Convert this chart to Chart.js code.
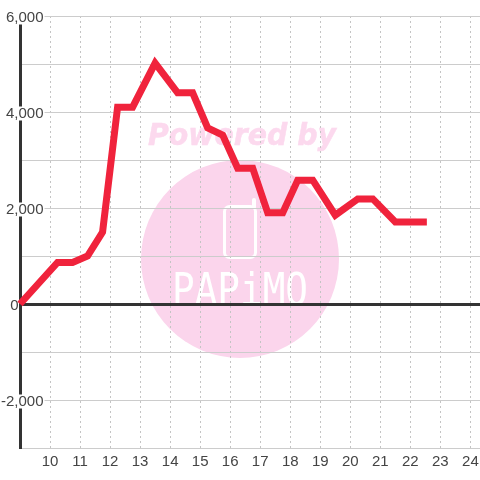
<!DOCTYPE html>
<html lang="en">

<head>
    <meta charset="utf-8">
    <title>Powered by PAPiMO</title>
    <script src="https://cdn.jsdelivr.net/npm/chart.js"></script>
    <style>
        html, body { margin: 0; padding: 0; background: #fff; }
        canvas { display: block; }
    </style>
</head>

<body>
    <canvas id="chart" width="480" height="480"></canvas>

    <script>
        // values
        const hours = [9, 10.25, 10.75, 11.25, 11.75, 12.25, 12.75, 13.5, 14.25, 14.75, 15.25, 15.75, 16.25, 16.75, 17.25, 17.75, 18.25, 18.75, 19.5, 20.25, 20.75, 21.5, 22.55];
        const power = [0, 865, 865, 1000, 1500, 4100, 4100, 5020, 4400, 4400, 3670, 3520, 2830, 2830, 1900, 1900, 2580, 2580, 1850, 2190, 2190, 1710, 1710];
        const xTicks = [10, 11, 12, 13, 14, 15, 16, 17, 18, 19, 20, 21, 22, 23, 24];
        // the zero label sits left of the axis in the reference, trailing spaces push it there
        const yLabels = { '6000': '6,000', '4000': '4,000', '2000': '2,000', '0': '0      ', '-2000': '-2,000' };

        // pink logo behind the grid
        const watermark = {
            id: 'watermark',
            beforeDraw(chart) {
                const c = chart.ctx;
                c.save();
                c.fillStyle = '#fbd5ec';
                c.beginPath();
                c.arc(240, 259, 99, 0, Math.PI * 2);
                c.fill();

                c.fillStyle = '#fcd9ee';
                c.strokeStyle = '#fcd9ee';
                c.lineWidth = 0.5;
                c.font = 'italic bold 30px "DejaVu Sans"';
                c.textAlign = 'left';
                c.textBaseline = 'alphabetic';
                c.fillText('Powered by', 148, 145, 188);
                c.strokeText('Powered by', 148, 145, 188);

                c.strokeStyle = '#fff';
                c.lineWidth = 3;
                c.beginPath();
                c.roundRect(224.5, 206.5, 31, 51, 5);
                c.stroke();
                c.lineWidth = 4;
                c.lineCap = 'round';
                c.beginPath();
                c.moveTo(254, 207);
                c.lineTo(254, 200);
                c.stroke();

                c.fillStyle = '#fff';
                c.font = '44px "DejaVu Sans Mono"';
                c.fillText('PAPiMO', 172, 305, 136);
                c.restore();
            }
        };

        new Chart(document.getElementById('chart').getContext('2d'), {
            type: 'line',
            data: {
                datasets: [{
                    data: hours.map((h, i) => ({ x: h, y: power[i] })),
                    borderColor: '#f0233c',
                    borderWidth: 7,
                    pointRadius: 0,
                    tension: 0,
                    clip: false
                }]
            },
            options: {
                responsive: false,
                animation: false,
                layout: { padding: { top: 16, right: 0, left: 0, bottom: 0 } },
                plugins: { legend: { display: false }, tooltip: { enabled: false } },
                scales: {
                    x: {
                        type: 'linear',
                        min: 9,
                        max: 24.32,
                        afterBuildTicks: axis => { axis.ticks = xTicks.map(v => ({ value: v })); },
                        afterFit: axis => { axis.height = 32; axis.paddingRight = 0; axis.paddingLeft = 0; },
                        grid: { color: '#c4c4c4', lineWidth: 1, drawTicks: false },
                        border: { display: false, dash: [2, 3] },
                        ticks: {
                            color: '#444',
                            font: { family: '"Liberation Sans"', size: 15 },
                            padding: 5,
                            maxRotation: 0,
                            autoSkip: false,
                            callback: v => String(v)
                        }
                    },
                    y: {
                        min: -3000,
                        max: 6000,
                        afterFit: axis => { axis.width = 20; axis.paddingTop = 0; axis.paddingBottom = 0; },
                        grid: {
                            color: c => c.tick.value === 0 ? '#333' : '#ccc',
                            lineWidth: c => c.tick.value === 0 ? 3 : 1,
                            drawTicks: false
                        },
                        border: { color: '#333', width: 3 },
                        ticks: {
                            stepSize: 1000,
                            mirror: true,
                            crossAlign: 'far',
                            padding: -19,
                            labelOffset: 1.5,
                            color: '#444',
                            font: { family: '"Liberation Sans"', size: 15 },
                            showLabelBackdrop: c => c.tick.value !== 0 && c.tick.value % 2000 === 0,
                            backdropColor: '#fff',
                            backdropPadding: { x: 1, y: -2 },
                            callback: v => yLabels[v] || ''
                        }
                    }
                }
            },
            plugins: [watermark]
        });
    </script>
</body>

</html>
